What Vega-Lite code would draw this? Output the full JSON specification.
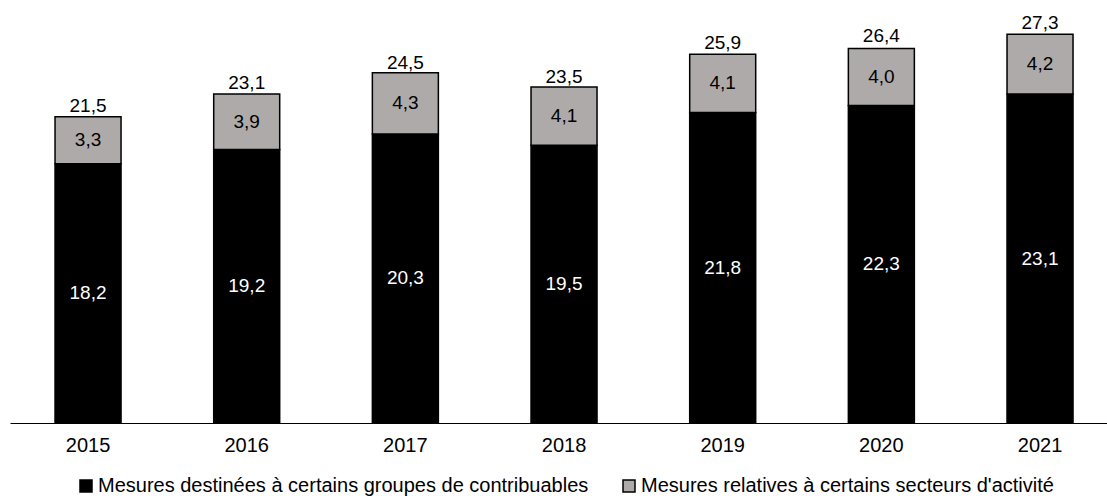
{
  "$schema": "https://vega.github.io/schema/vega-lite/v6.json",
  "width": 1097,
  "height": 413,
  "autosize": "none",
  "padding": {"left": 10, "top": 10, "right": 0, "bottom": 73},
  "config": {
    "font": "Liberation Sans",
    "view": {"stroke": null},
    "locale": {"number": {"decimal": ",", "thousands": " ", "grouping": [3], "currency": ["", " €"]}}
  },
  "datasets": {
    "parts": [
      {"year": "2015", "serie": "Mesures destinées à certains groupes de contribuables", "ordre": 1, "valeur": 18.2},
      {"year": "2015", "serie": "Mesures relatives à certains secteurs d'activité", "ordre": 2, "valeur": 3.3},
      {"year": "2016", "serie": "Mesures destinées à certains groupes de contribuables", "ordre": 1, "valeur": 19.2},
      {"year": "2016", "serie": "Mesures relatives à certains secteurs d'activité", "ordre": 2, "valeur": 3.9},
      {"year": "2017", "serie": "Mesures destinées à certains groupes de contribuables", "ordre": 1, "valeur": 20.3},
      {"year": "2017", "serie": "Mesures relatives à certains secteurs d'activité", "ordre": 2, "valeur": 4.3},
      {"year": "2018", "serie": "Mesures destinées à certains groupes de contribuables", "ordre": 1, "valeur": 19.5},
      {"year": "2018", "serie": "Mesures relatives à certains secteurs d'activité", "ordre": 2, "valeur": 4.1},
      {"year": "2019", "serie": "Mesures destinées à certains groupes de contribuables", "ordre": 1, "valeur": 21.8},
      {"year": "2019", "serie": "Mesures relatives à certains secteurs d'activité", "ordre": 2, "valeur": 4.1},
      {"year": "2020", "serie": "Mesures destinées à certains groupes de contribuables", "ordre": 1, "valeur": 22.3},
      {"year": "2020", "serie": "Mesures relatives à certains secteurs d'activité", "ordre": 2, "valeur": 4.0},
      {"year": "2021", "serie": "Mesures destinées à certains groupes de contribuables", "ordre": 1, "valeur": 23.1},
      {"year": "2021", "serie": "Mesures relatives à certains secteurs d'activité", "ordre": 2, "valeur": 4.2}
    ],
    "totals": [
      {"year": "2015", "total": 21.5},
      {"year": "2016", "total": 23.1},
      {"year": "2017", "total": 24.5},
      {"year": "2018", "total": 23.5},
      {"year": "2019", "total": 25.9},
      {"year": "2020", "total": 26.4},
      {"year": "2021", "total": 27.3}
    ]
  },
  "encoding": {
    "x": {
      "field": "year",
      "type": "ordinal",
      "scale": {"paddingInner": 0.584, "paddingOuter": 0.249, "align": 0.57},
      "axis": {
        "title": null,
        "labelAngle": 0,
        "labelFontSize": 20,
        "labelColor": "#000000",
        "labelPadding": 12,
        "ticks": false,
        "domainColor": "#000000",
        "domainWidth": 1
      }
    }
  },
  "layer": [
    {
      "data": {"name": "parts"},
      "mark": {"type": "bar", "stroke": "#000000", "strokeWidth": 1.5},
      "encoding": {
        "y": {"field": "valeur", "type": "quantitative", "stack": "zero", "scale": {"domain": [0, 29], "nice": false}, "axis": null},
        "color": {
          "field": "serie",
          "type": "nominal",
          "scale": {
            "domain": ["Mesures destinées à certains groupes de contribuables", "Mesures relatives à certains secteurs d'activité"],
            "range": ["#000000", "#AEAAAA"]
          },
          "legend": {
            "title": null,
            "orient": "none",
            "legendX": 66,
            "legendY": 466,
            "direction": "horizontal",
            "symbolType": "square",
            "symbolSize": 144,
            "symbolStrokeColor": "#000000",
            "symbolStrokeWidth": 1.5,
            "labelFontSize": 20,
            "labelColor": "#000000",
            "labelLimit": 0,
            "labelOffset": 2,
            "columnPadding": 30
          }
        },
        "order": {"field": "ordre", "type": "quantitative"}
      }
    },
    {
      "data": {"name": "parts"},
      "transform": [
        {"stack": "valeur", "groupby": ["year"], "sort": [{"field": "ordre"}], "as": ["v0", "v1"]},
        {"calculate": "(datum.v0 + datum.v1) / 2", "as": "mid"}
      ],
      "mark": {"type": "text", "fontSize": 19, "baseline": "middle", "align": "center"},
      "encoding": {
        "y": {"field": "mid", "type": "quantitative", "scale": {"domain": [0, 29], "nice": false}},
        "text": {"field": "valeur", "type": "quantitative", "format": ".1f"},
        "color": {
          "field": "ordre",
          "type": "nominal",
          "scale": {"domain": [1, 2], "range": ["#FFFFFF", "#000000"]},
          "legend": null
        }
      }
    },
    {
      "data": {"name": "totals"},
      "mark": {"type": "text", "fontSize": 19, "baseline": "alphabetic", "align": "center", "dy": -5, "color": "#000000"},
      "encoding": {
        "y": {"field": "total", "type": "quantitative", "scale": {"domain": [0, 29], "nice": false}},
        "text": {"field": "total", "type": "quantitative", "format": ".1f"}
      }
    }
  ],
  "resolve": {"scale": {"color": "independent"}}
}
